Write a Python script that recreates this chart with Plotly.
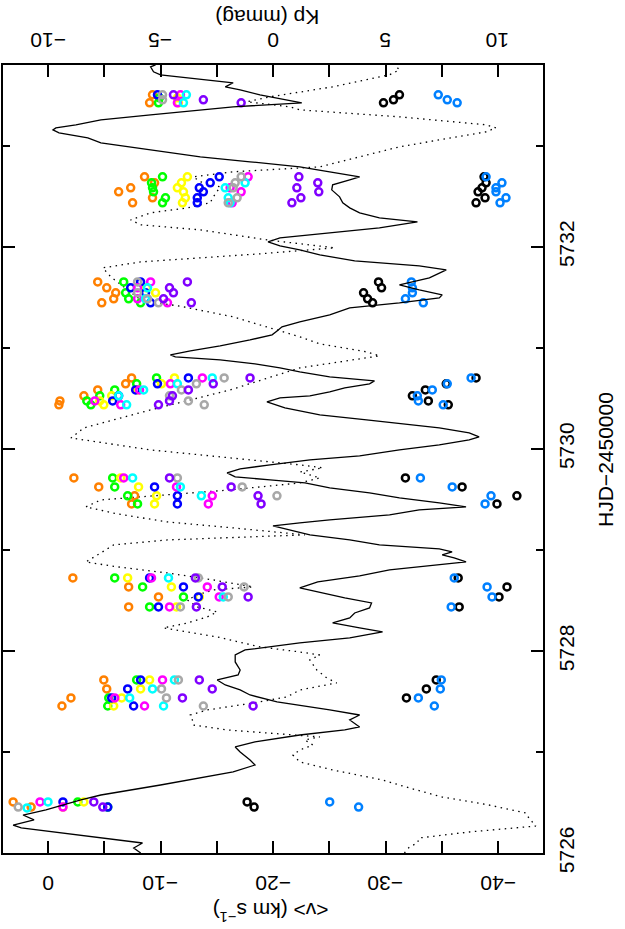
import plotly.graph_objects as go

# Kp light curve (solid line), HJD-2450000 vs Kp (mmag)
hjd_solid = [
    5726.000, 5726.050, 5726.099, 5726.149, 5726.198, 5726.248, 5726.277, 5726.327, 5726.376, 5726.426,
    5726.525, 5726.574, 5726.673, 5726.743, 5726.802, 5726.871, 5726.921, 5727.000, 5727.050, 5727.099,
    5727.168, 5727.218, 5727.248, 5727.317, 5727.366, 5727.416, 5727.465, 5727.495, 5727.564, 5727.614,
    5727.663, 5727.713, 5727.762, 5727.812, 5727.891, 5727.960, 5728.010, 5728.079, 5728.129, 5728.188,
    5728.228, 5728.277, 5728.327, 5728.376, 5728.426, 5728.475, 5728.525, 5728.584, 5728.624, 5728.683,
    5728.743, 5728.802, 5728.851, 5728.881, 5728.921, 5728.950, 5728.980, 5729.010, 5729.050, 5729.099,
    5729.149, 5729.198, 5729.238, 5729.267, 5729.297, 5729.347, 5729.396, 5729.426, 5729.465, 5729.515,
    5729.564, 5729.614, 5729.663, 5729.693, 5729.723, 5729.762, 5729.802, 5729.842, 5729.891, 5729.931,
    5729.990, 5730.040, 5730.089, 5730.119, 5730.158, 5730.208, 5730.248, 5730.287, 5730.337, 5730.406,
    5730.465, 5730.505, 5730.525, 5730.564, 5730.604, 5730.644, 5730.673, 5730.713, 5730.762, 5730.802,
    5730.842, 5730.881, 5730.911, 5730.931, 5730.970, 5731.020, 5731.079, 5731.129, 5731.168, 5731.208,
    5731.257, 5731.327, 5731.396, 5731.446, 5731.495, 5731.525, 5731.574, 5731.624, 5731.693, 5731.772,
    5731.812, 5731.861, 5731.921, 5731.970, 5732.010, 5732.050, 5732.089, 5732.129, 5732.188, 5732.248,
    5732.287, 5732.337, 5732.386, 5732.436, 5732.495, 5732.564, 5732.614, 5732.663, 5732.693, 5732.743,
    5732.792, 5732.842, 5732.891, 5732.960, 5733.030, 5733.079, 5733.129, 5733.158, 5733.178, 5733.208,
    5733.257, 5733.307, 5733.356, 5733.386, 5733.426, 5733.455, 5733.505, 5733.554, 5733.584, 5733.624,
    5733.673, 5733.703, 5733.733, 5733.782, 5733.802,
]
kp_solid = [
    -5.88, -6.19, -5.80, -7.65, -9.42, -11.19, -11.55, -10.62, -11.11, -10.09,
    -8.54, -7.65, -5.00, -3.23, -1.77, -0.80, -1.02, -1.46, -1.68, -0.80,
    1.19, 3.19, 3.85, 3.41, 3.85, 2.52, 1.19, 0.18, -1.02, -1.46,
    -2.12, -2.48, -1.55, -1.46, -1.68, -1.68, -1.24, 1.19, 3.41, 4.87,
    3.85, 2.65, 3.41, 3.63, 4.29, 4.38, 3.19, 2.08, 1.19, 1.99,
    3.85, 5.18, 7.39, 8.58, 8.05, 7.52, 7.96, 7.39, 4.73, 3.41,
    1.64, 0.75, 0.00, 1.19, 2.52, 5.18, 6.50, 8.58, 7.39, 5.62,
    4.29, 2.52, 1.42, -0.13, -1.68, -2.04, -1.46, -0.13, 1.64, 3.85,
    5.62, 7.39, 8.72, 9.16, 8.72, 7.39, 5.62, 4.16, 2.08, 0.53,
    -0.27, 0.31, 1.64, 2.52, 3.19, 4.29, 4.51, 2.52, 1.19, 0.31,
    -0.80, -2.35, -4.34, -4.56, -3.67, -2.35, -1.02, -0.04, 0.18, 0.40,
    1.19, 2.52, 3.41, 5.62, 7.39, 7.52, 6.50, 5.62, 6.95, 7.70,
    6.50, 3.63, 2.08, 1.19, 0.31, -0.22, 0.31, 2.08, 4.73, 6.42,
    4.73, 3.85, 3.41, 3.10, 2.96, 2.61, 2.65, 3.41, 3.85, 2.52,
    1.19, -1.02, -3.23, -5.44, -7.65, -8.23, -9.51, -9.78, -9.65, -8.76,
    -7.65, -5.44, -3.23, -1.77, 1.28, 0.62, -0.58, -1.46, -2.12, -1.77,
    -3.67, -5.00, -5.31, -5.44, -5.22,
]

# mean velocity curve (dotted line), HJD-2450000 vs <v> (km/s)
hjd_dot = [
    5726.000, 5726.059, 5726.099, 5726.149, 5726.208, 5726.267, 5726.347, 5726.396, 5726.475, 5726.554,
    5726.644, 5726.723, 5726.822, 5726.901, 5726.970, 5727.020, 5727.069, 5727.119, 5727.149, 5727.188,
    5727.218, 5727.267, 5727.317, 5727.366, 5727.416, 5727.485, 5727.545, 5727.614, 5727.683, 5727.733,
    5727.812, 5727.911, 5727.960, 5727.990, 5728.040, 5728.139, 5728.228, 5728.277, 5728.337, 5728.386,
    5728.436, 5728.505, 5728.554, 5728.604, 5728.634, 5728.703, 5728.772, 5728.832, 5728.881, 5728.970,
    5729.050, 5729.099, 5729.129, 5729.149, 5729.218, 5729.277, 5729.356, 5729.426, 5729.495, 5729.535,
    5729.594, 5729.663, 5729.713, 5729.772, 5729.812, 5729.842, 5729.891, 5729.990, 5730.089, 5730.109,
    5730.208, 5730.386, 5730.584, 5730.802, 5730.851, 5730.921, 5730.960, 5731.040, 5731.109, 5731.307,
    5731.406, 5731.475, 5731.574, 5731.703, 5731.792, 5731.851, 5731.891, 5731.931, 5731.990, 5732.069,
    5732.168, 5732.218, 5732.267, 5732.337, 5732.386, 5732.436, 5732.495, 5732.594, 5732.644, 5732.693,
    5732.743, 5732.792, 5732.990, 5733.139, 5733.178, 5733.208, 5733.287, 5733.356, 5733.386, 5733.436,
    5733.485, 5733.554, 5733.584, 5733.703, 5733.752, 5733.802,
]
v_dot = [
    -31.68, -32.12, -32.83, -33.01, -37.43, -43.36, -42.74, -42.48, -39.20, -35.04,
    -32.12, -29.73, -25.31, -22.39, -21.77, -22.39, -23.54, -22.83, -24.16, -19.73,
    -15.93, -12.92, -12.83, -12.65, -14.16, -18.23, -21.24, -22.39, -25.66, -24.78,
    -23.89, -23.27, -24.16, -22.39, -18.85, -15.04, -10.27, -12.39, -14.16, -15.04,
    -13.27, -12.39, -13.27, -14.69, -18.23, -14.69, -10.62, -6.19, -3.36, -4.69,
    -5.84, -10.62, -17.08, -22.83, -16.46, -10.62, -6.19, -3.36, -4.69, -9.12,
    -16.19, -22.39, -24.16, -22.39, -24.42, -22.39, -17.96, -9.12, -3.19, -2.04,
    -3.19, -9.12, -16.19, -22.39, -25.31, -29.47, -28.32, -24.16, -22.39, -16.46,
    -12.04, -8.23, -7.08, -5.58, -4.87, -8.23, -13.54, -18.85, -25.49, -19.47,
    -13.54, -8.23, -7.35, -9.12, -12.39, -14.42, -14.69, -15.31, -13.54, -12.92,
    -16.46, -24.16, -31.24, -38.94, -39.82, -38.94, -31.24, -22.39, -21.50, -17.70,
    -19.73, -23.54, -25.31, -30.35, -31.24, -30.80,
]

# individual line velocities (open circles)
hjd_orange = [5726.505, 5726.455, 5727.713, 5727.624, 5727.535, 5727.455, 5728.723, 5728.634, 5728.535, 5728.436,
              5729.713, 5729.624, 5729.535, 5729.455, 5730.703, 5730.644, 5730.584, 5730.525, 5730.475, 5730.436,
              5731.653, 5731.594, 5731.545, 5731.485, 5731.446, 5732.693, 5732.634, 5732.584, 5732.545, 5732.485,
              5732.436, 5733.505, 5733.426]
v_orange = [3.10, 1.50, -4.96, -5.22, -2.04, -1.24, -2.21, -7.17, -9.82, -7.17,
            -2.30, -4.51, -7.70, -7.43, -7.43, -6.90, -4.42, -3.19, -1.06, -0.97,
            -4.42, -5.22, -6.02, -5.84, -4.78, -8.58, -9.47, -7.35, -6.28, -9.29,
            -7.52, -9.29, -9.03]

hjd_green = [5726.505, 5726.455, 5727.713, 5727.535, 5727.455, 5728.723, 5728.634, 5728.535, 5728.436,
             5729.713, 5729.624, 5729.535, 5729.455, 5730.703, 5730.644, 5730.584, 5730.525, 5730.475, 5730.436,
             5731.653, 5731.545, 5731.485, 5731.446, 5732.693, 5732.634, 5732.584, 5732.545, 5732.485, 5732.436,
             5733.475, 5733.426]
v_green = [-2.65, -5.31, -7.88, -5.40, -5.31, -5.93, -8.41, -12.04, -9.03,
           -5.75, -5.93, -7.08, -7.96, -9.65, -7.88, -5.93, -4.60, -3.45, -3.81,
           -6.73, -6.90, -7.17, -8.23, -10.18, -9.20, -9.29, -9.38, -10.44, -10.18,
           -9.91, -9.82]

hjd_yellow = [5726.455, 5726.505, 5727.713, 5727.624, 5727.535, 5727.455, 5728.723, 5728.634, 5728.535, 5728.436,
              5729.713, 5729.624, 5729.535, 5729.455, 5730.703, 5730.644, 5730.584, 5730.525, 5730.475, 5730.436,
              5731.594, 5731.545, 5732.693, 5732.634, 5732.584, 5732.545, 5732.485, 5732.436, 5733.475, 5733.426]
v_yellow = [-1.33, -3.19, -9.03, -8.23, -6.55, -5.84, -7.08, -10.97, -13.45, -11.42,
            -6.46, -8.05, -9.65, -9.47, -11.24, -10.09, -7.96, -5.66, -4.60, -4.96,
            -8.76, -9.56, -12.39, -11.86, -11.50, -12.04, -12.21, -11.95, -11.50, -11.59]

hjd_blue = [5726.505, 5726.455, 5727.713, 5727.624, 5727.535, 5727.455, 5728.723, 5728.634, 5728.535, 5728.436,
            5729.624, 5729.535, 5729.455, 5730.703, 5730.644, 5730.584, 5730.525, 5730.475,
            5731.653, 5731.594, 5731.545, 5731.446, 5732.693, 5732.634, 5732.584, 5732.545, 5732.485, 5732.436,
            5733.505]
v_blue = [-1.33, -5.31, -8.23, -7.08, -5.66, -7.61, -9.03, -12.04, -13.36, -9.82,
          -9.47, -11.50, -11.50, -12.48, -9.73, -7.79, -6.28, -5.75,
          -8.23, -7.35, -8.67, -9.12, -15.22, -14.42, -13.45, -13.81, -13.27, -13.27,
          -9.73]

hjd_magenta = [5726.505, 5726.455, 5727.713, 5727.535, 5727.455, 5728.723, 5728.634, 5728.535, 5728.436,
               5729.713, 5729.624, 5729.535, 5729.455, 5730.703, 5730.644, 5730.584, 5730.475, 5730.436,
               5731.653, 5731.594, 5731.485, 5731.446, 5732.693, 5732.584, 5732.545, 5732.436, 5733.505, 5733.426]
v_magenta = [0.71, -1.33, -10.18, -5.93, -8.58, -9.20, -14.16, -15.22, -10.80,
             -6.73, -11.42, -14.60, -14.25, -13.72, -10.88, -8.14, -4.16, -6.46,
             -9.12, -7.96, -7.96, -10.62, -17.79, -16.19, -17.17, -16.37, -11.77, -11.50]

hjd_cyan = [5726.446, 5726.505, 5727.713, 5727.624, 5727.535, 5727.455, 5728.723, 5728.535,
            5729.713, 5729.624, 5729.535, 5730.703, 5730.644, 5730.584, 5730.525, 5730.436,
            5731.594, 5731.485, 5732.634, 5732.584, 5732.485, 5732.436, 5733.505, 5733.426]
v_cyan = [1.86, 0.00, -11.24, -9.29, -7.26, -10.27, -10.71, -15.58,
          -7.52, -11.77, -13.63, -14.60, -11.50, -8.50, -6.28, -6.99,
          -8.85, -8.67, -17.52, -15.75, -16.02, -16.19, -12.30, -12.04]

hjd_gray = [5726.455, 5727.713, 5727.624, 5727.535, 5727.455, 5728.723, 5728.634, 5728.535, 5728.436,
            5729.713, 5729.624, 5729.535, 5730.703, 5730.644, 5730.584, 5730.525, 5730.475, 5730.436,
            5731.653, 5731.545, 5731.485, 5731.446, 5732.693, 5732.634, 5732.584, 5732.485, 5732.436,
            5733.505, 5733.455]
v_gray = [2.65, -11.59, -10.09, -10.53, -13.81, -13.36, -17.43, -16.02, -11.77,
          -11.50, -17.26, -20.35, -15.66, -13.19, -11.86, -10.80, -12.48, -13.89,
          -7.96, -7.96, -8.85, -9.82, -17.17, -16.64, -16.46, -16.81, -16.02,
          -10.18, -10.18]

hjd_purple = [5726.505, 5726.455, 5727.713, 5727.624, 5727.535, 5727.455, 5728.723, 5728.634, 5728.535, 5728.436,
              5729.713, 5729.624, 5729.535, 5729.455, 5730.703, 5730.644, 5730.584, 5730.525, 5730.475, 5730.436,
              5731.653, 5731.594, 5731.545, 5731.485, 5731.446, 5732.693, 5732.634, 5732.584, 5732.545, 5732.485,
              5732.436, 5733.505, 5733.455, 5733.426]
v_purple = [-4.07, -4.87, -13.45, -14.60, -11.95, -18.23, -13.10, -15.49, -17.79, -13.19,
            -10.80, -16.28, -18.67, -18.94, -17.96, -14.69, -12.48, -11.06, -10.80, -9.82,
            -12.39, -10.80, -11.15, -10.27, -12.74, -22.30, -23.98, -22.12, -24.07, -22.48,
            -21.68, -11.15, -13.81, -17.17]

hjd_black = [5726.505, 5726.455, 5727.713, 5727.624, 5727.535, 5728.723, 5728.634, 5728.535, 5728.436,
             5729.713, 5729.624, 5729.535, 5729.455, 5730.703, 5730.644, 5730.584, 5730.525, 5730.475, 5730.436,
             5731.653, 5731.594, 5731.545, 5731.485, 5731.446, 5732.693, 5732.634, 5732.584, 5732.545, 5732.485,
             5732.436, 5733.505, 5733.455, 5733.426]
v_black = [-17.70, -18.32, -34.51, -33.63, -31.86, -36.46, -40.80, -40.09, -36.55,
           -31.77, -36.81, -41.68, -39.91, -38.05, -35.40, -33.54, -32.39, -33.81, -35.58,
           -29.38, -29.65, -28.05, -28.41, -28.85, -38.76, -38.94, -38.58, -38.23, -38.85,
           -38.05, -31.24, -30.71, -29.82]

hjd_azure = [5726.505, 5726.455, 5727.713, 5727.624, 5727.535, 5727.455, 5728.723, 5728.634, 5728.535, 5728.436,
             5729.713, 5729.624, 5729.535, 5729.455, 5730.703, 5730.644, 5730.584, 5730.525, 5730.475, 5730.436,
             5731.653, 5731.594, 5731.545, 5731.485, 5731.446, 5732.693, 5732.634, 5732.584, 5732.545, 5732.485,
             5732.436, 5733.505, 5733.455, 5733.426]
v_azure = [-25.04, -27.61, -34.96, -34.87, -32.92, -34.34, -36.11, -39.03, -39.47, -35.84,
           -33.10, -35.93, -39.38, -38.85, -37.61, -35.49, -34.16, -32.83, -32.92, -35.13,
           -32.30, -32.39, -32.39, -31.77, -33.36, -38.94, -40.35, -39.82, -39.82, -40.71,
           -40.18, -34.69, -35.49, -36.37]

# tick labels of the two horizontal axes (drawn upside down, as in the reference)
v_tick_vals = [0, -10, -20, -30, -40]
v_tick_text = ["0", "−10", "−20", "−30", "−40"]
kp_tick_vals = [-10, -5, 0, 5, 10]
kp_tick_text = ["−10", "−5", "0", "5", "10"]

circle_sets = [
    ("#ff8000", hjd_orange, v_orange),
    ("#00ff00", hjd_green, v_green),
    ("#ffff00", hjd_yellow, v_yellow),
    ("#0000ff", hjd_blue, v_blue),
    ("#ff00ff", hjd_magenta, v_magenta),
    ("#00ffff", hjd_cyan, v_cyan),
    ("#a8a8a8", hjd_gray, v_gray),
    ("#8000ff", hjd_purple, v_purple),
    ("#000000", hjd_black, v_black),
    ("#0080ff", hjd_azure, v_azure),
]

FONT = "Liberation Sans, Arial, sans-serif"

fig = go.Figure()
fig.add_trace(go.Scatter(
    x=v_dot, y=hjd_dot, mode="lines", xaxis="x", yaxis="y",
    line=dict(color="black", width=1.3, dash="1.5px,4.5px"),
))
fig.add_trace(go.Scatter(
    x=kp_solid, y=hjd_solid, mode="lines", xaxis="x2", yaxis="y",
    line=dict(color="black", width=1.3),
))
for color, t, v in circle_sets:
    fig.add_trace(go.Scatter(
        x=v, y=t, mode="markers", xaxis="x", yaxis="y",
        marker=dict(symbol="circle-open", size=7, color=color,
                    line=dict(width=2.5, color=color)),
    ))

axis_common = dict(
    showline=True, linewidth=2, linecolor="black", showgrid=False, zeroline=False,
    ticks="inside", ticklen=12, tickwidth=1.5, tickcolor="black", automargin=False,
    tickfont=dict(family=FONT, size=21, color="black"),
)
label_font = dict(family=FONT, size=21, color="black")

annotations = []
for val, txt in zip(v_tick_vals, v_tick_text):
    annotations.append(dict(text=txt, xref="x", yref="paper", x=val, y=-0.038,
                            xanchor="center", yanchor="middle", showarrow=False,
                            textangle=180, font=label_font))
for val, txt in zip(kp_tick_vals, kp_tick_text):
    annotations.append(dict(text=txt, xref="x2", yref="paper", x=val, y=1.032,
                            xanchor="center", yanchor="middle", showarrow=False,
                            textangle=180, font=label_font))
annotations += [
    dict(text="Kp (mmag)", xref="paper", yref="paper", x=0.49, y=1.06,
         xanchor="center", yanchor="middle",
         showarrow=False, textangle=180, font=label_font),
    dict(text="&lt;v&gt; (km s<sup>−1</sup>)", xref="paper", yref="paper", x=0.495, y=-0.074,
         xanchor="center", yanchor="middle",
         showarrow=False, textangle=180, font=label_font),
    dict(text="HJD−2450000", xref="paper", yref="paper", x=1.117, y=0.499,
         xanchor="center", yanchor="middle",
         showarrow=False, textangle=-90, font=label_font),
]

fig.update_layout(
    width=625, height=929,
    margin=dict(l=3, r=82, t=65, b=76),
    paper_bgcolor="white", plot_bgcolor="white",
    showlegend=False,
    xaxis=dict(range=[4, -44], tick0=0, dtick=10, showticklabels=False,
               minor=dict(dtick=5, ticks="inside", ticklen=12, tickwidth=1.5, tickcolor="black"),
               **axis_common),
    xaxis2=dict(range=[-12, 12], overlaying="x", side="top", anchor="y",
                tick0=0, dtick=5, showticklabels=False,
                minor=dict(dtick=2.5, ticks="inside", ticklen=12, tickwidth=1.5, tickcolor="black"),
                **axis_common),
    yaxis=dict(range=[5726, 5733.8], side="right", tick0=5726, dtick=2, tickangle=-90,
               mirror="ticks", tickformat="d", ticklabelstandoff=4,
               minor=dict(dtick=1, ticks="inside", ticklen=7, tickwidth=1.5, tickcolor="black"),
               **axis_common),
    annotations=annotations,
)

fig.write_html("out.html", config={"displayModeBar": False},
               post_script="document.body.style.margin='0px';")
